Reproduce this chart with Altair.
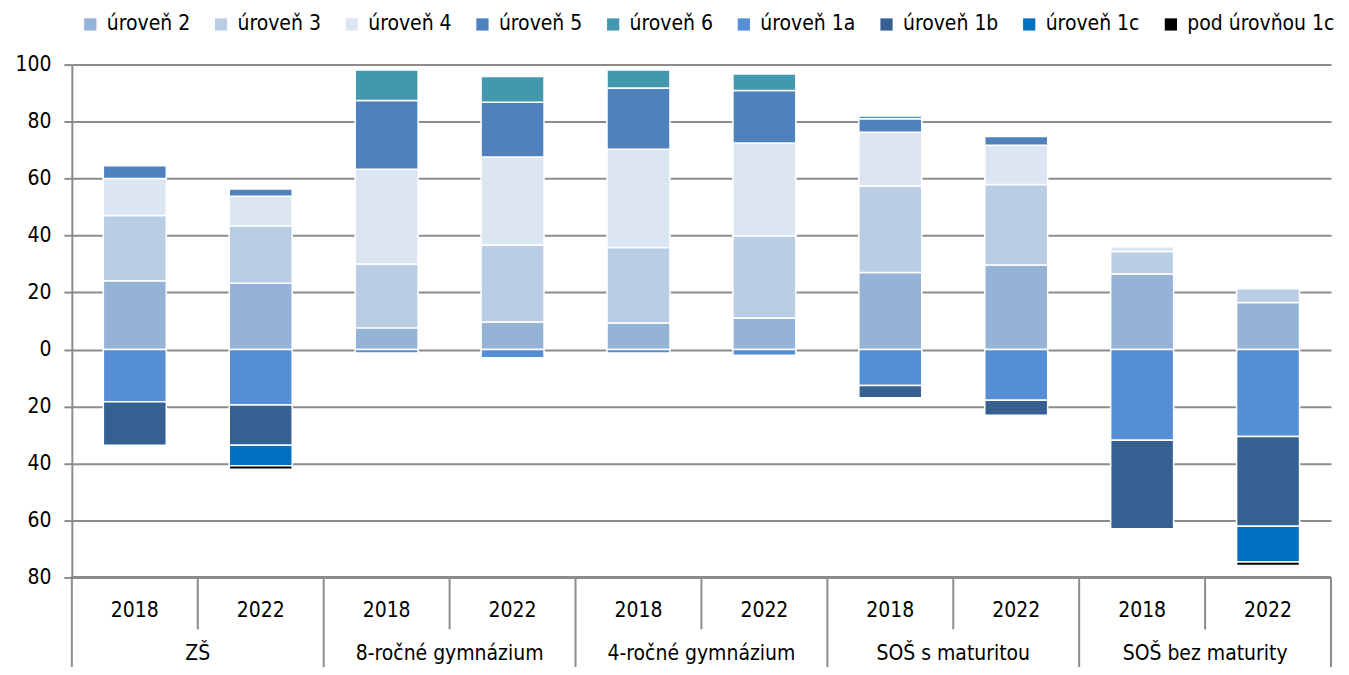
import altair as alt
import pandas as pd

groups = ["ZŠ", "8-ročné gymnázium", "4-ročné gymnázium", "SOŠ s maturitou", "SOŠ bez maturity"]
years = ["2018", "2022"]
levels = ["úroveň 2", "úroveň 3", "úroveň 4", "úroveň 5", "úroveň 6",
          "úroveň 1a", "úroveň 1b", "úroveň 1c", "pod úrovňou 1c"]
below = ["úroveň 1a", "úroveň 1b", "úroveň 1c", "pod úrovňou 1c"]
colors = ["#95B3D7", "#B9CDE5", "#DCE6F2", "#4F81BD", "#4397AE",
          "#558ED5", "#376092", "#0070C0", "#000000"]

# bar order: ZŠ 2018, ZŠ 2022, 8-r 2018, 8-r 2022, 4-r 2018, 4-r 2022, SOŠ m 2018, SOŠ m 2022, SOŠ bm 2018, SOŠ bm 2022
lvl2 = [24.1, 23.3, 7.6, 9.7, 9.3, 11.1, 27.0, 29.7, 26.5, 16.5]
lvl3 = [22.9, 20.1, 22.4, 27.0, 26.5, 28.8, 30.4, 28.2, 7.9, 4.8]
lvl4 = [13.0, 10.4, 33.3, 30.9, 34.5, 32.6, 18.9, 13.8, 1.7, 0.0]
lvl5 = [4.5, 2.5, 24.1, 19.2, 21.5, 18.4, 4.7, 3.1, 0.0, 0.0]
lvl6 = [0.0, 0.0, 10.7, 9.0, 6.3, 5.8, 1.0, 0.0, 0.0, 0.0]
lvl1a = [18.3, 19.5, 1.2, 2.9, 1.2, 2.0, 12.6, 17.8, 31.8, 30.5]
lvl1b = [15.3, 14.1, 0.0, 0.0, 0.0, 0.0, 4.3, 5.3, 31.1, 31.5]
lvl1c = [0.0, 7.2, 0.0, 0.0, 0.0, 0.0, 0.0, 0.0, 0.0, 12.6]
lvlpod = [0.0, 1.2, 0.0, 0.0, 0.0, 0.0, 0.0, 0.0, 0.0, 1.2]

series = [lvl2, lvl3, lvl4, lvl5, lvl6, lvl1a, lvl1b, lvl1c, lvlpod]
y_ticks = [-80, -60, -40, -20, 0, 20, 40, 60, 80, 100]

rows = []
for li, (lev, vals) in enumerate(zip(levels, series)):
    sign = -1 if lev in below else 1
    for i, v in enumerate(vals):
        if v == 0:
            continue
        rows.append({"idx": i, "level": lev, "ord": li, "val": sign * v})
df = pd.DataFrame(rows)

ylab = pd.DataFrame([{"idx": gi * 2 + yi, "year": y} for gi in range(len(groups)) for yi, y in enumerate(years)])
glab = pd.DataFrame([{"g": gi, "group": g} for gi, g in enumerate(groups)])
seps = pd.DataFrame([{"pos": p, "long": p % 2 == 0} for p in range(len(groups) * 2 + 1)])

W, H = 1262, 514
FONT = "DejaVu Sans Condensed, sans-serif"
GRID = "#8c8c8c"
xs = alt.Scale(domain=[0, len(groups) * 2], nice=False, zero=False)
ys = alt.Scale(domain=[-80, 100], nice=False)

bars = alt.Chart(df).transform_stack(
    stack="val", groupby=["idx"], as_=["v0", "v1"],
    sort=[alt.SortField("ord", order="ascending")], offset="zero"
).transform_calculate(
    x0="datum.idx + 0.25", x1="datum.idx + 0.75"
).mark_bar(stroke="white", strokeWidth=1.5).encode(
    x=alt.X("x0:Q", scale=xs, axis=None),
    x2="x1:Q",
    y=alt.Y("v0:Q", scale=ys,
            axis=alt.Axis(values=y_ticks, labelExpr="abs(datum.value)", title=None,
                          grid=True, gridColor=GRID, gridWidth=2,
                          domain=True, domainColor=GRID, domainWidth=2,
                          tickColor=GRID, tickWidth=2, tickSize=8,
                          labelFontSize=21, labelFont=FONT, labelColor="#000", labelPadding=13)),
    y2="v1:Q",
    color=alt.Color("level:N", scale=alt.Scale(domain=levels, range=colors),
                    legend=alt.Legend(title=None, orient="none", legendX=8, legendY=-51,
                                      direction="horizontal", columns=9,
                                      symbolType="square", symbolSize=150, symbolStrokeWidth=0,
                                      labelFontSize=21, labelFont=FONT, labelColor="#000",
                                      labelOffset=6, columnPadding=20)),
)

sep_long = alt.Chart(seps[seps["long"]]).mark_rule(color=GRID, strokeWidth=2).encode(
    x=alt.X("pos:Q", scale=xs), y=alt.value(H), y2=alt.value(H + 110))
sep_short = alt.Chart(seps[~seps["long"]]).mark_rule(color=GRID, strokeWidth=2).encode(
    x=alt.X("pos:Q", scale=xs), y=alt.value(H), y2=alt.value(H + 52))
base_line = alt.Chart(seps).mark_rule(color=GRID, strokeWidth=2).encode(
    x=alt.value(0), x2=alt.value(W), y=alt.value(H))

year_text = alt.Chart(ylab).transform_calculate(xc="datum.idx + 0.5").mark_text(
    fontSize=21, font=FONT, color="#000", baseline="middle"
).encode(x=alt.X("xc:Q", scale=xs), y=alt.value(H + 34), text="year:N")

group_text = alt.Chart(glab).transform_calculate(xc="datum.g * 2 + 1").mark_text(
    fontSize=21, font=FONT, color="#000", baseline="middle"
).encode(x=alt.X("xc:Q", scale=xs), y=alt.value(H + 77), text="group:N")

chart = alt.layer(bars, sep_long, sep_short, base_line, year_text, group_text).properties(
    width=W, height=H,
    autosize=alt.AutoSizeParams(type="none"),
    padding={"left": 64, "top": 56, "right": 10, "bottom": 89},
).configure_view(stroke=None)

chart.save("out.html", embed_options={"renderer": "svg", "actions": False})
